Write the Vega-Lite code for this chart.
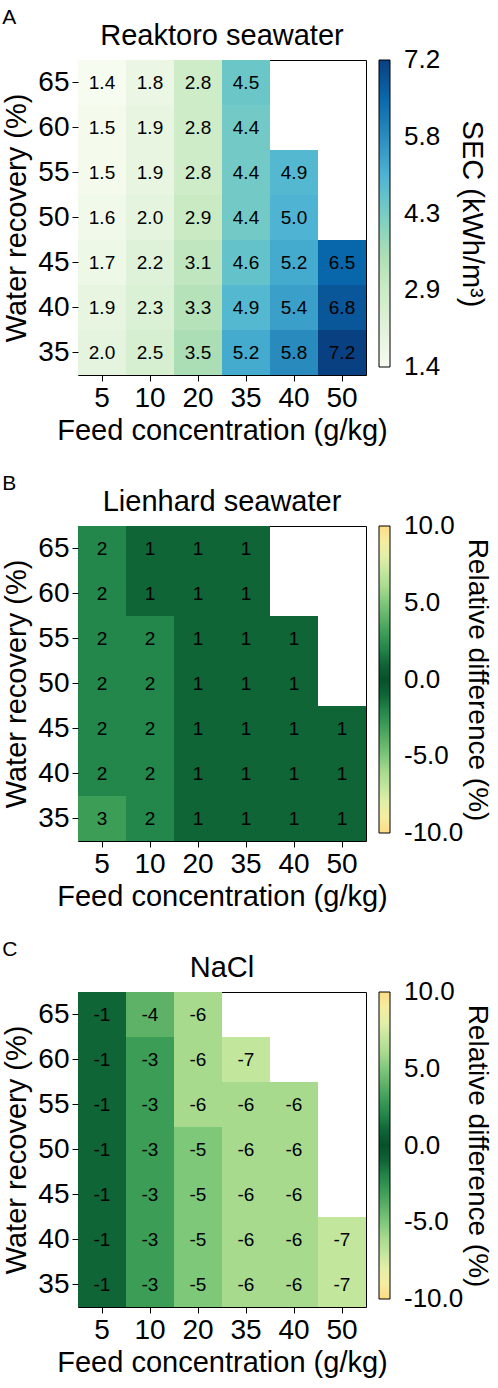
{
  "$schema": "https://vega.github.io/schema/vega-lite/v6.json",
  "background": "white",
  "padding": {"left": 2, "top": 6, "right": 0, "bottom": 0},
  "config": {
    "font": "Liberation Sans",
    "view": {"stroke": "black", "strokeWidth": 1},
    "axis": {
      "labelFontSize": 28, "titleFontSize": 29, "labelColor": "black", "titleColor": "black",
      "titleFontWeight": "normal", "tickColor": "black", "tickSize": 6, "domain": false,
      "labelPadding": 3, "grid": false
    },
    "axisX": {"labelAngle": 0, "titlePadding": 4},
    "axisY": {"titlePadding": 6},
    "legend": {
      "orient": "right", "direction": "vertical", "offset": -9, "padding": 0,
      "gradientLength": 307, "gradientThickness": 11,
      "gradientStrokeColor": "black", "gradientStrokeWidth": 1,
      "labelFontSize": 26, "labelColor": "black", "labelOffset": 14, "labelOverlap": false,
      "titleOrient": "right", "titleAnchor": "middle", "titleFontSize": 29,
      "titleFontWeight": "normal", "titleColor": "black", "titlePadding": 1, "titleLimit": 400
    },
    "title": {"fontSize": 29, "fontWeight": "normal", "color": "black"},
    "concat": {"spacing": 26}
  },
  "datasets": {
    "reaktoro": [
      {"feed": 5, "recovery": 65, "sec": 1.4}, {"feed": 10, "recovery": 65, "sec": 1.8}, {"feed": 20, "recovery": 65, "sec": 2.8}, {"feed": 35, "recovery": 65, "sec": 4.5},
      {"feed": 5, "recovery": 60, "sec": 1.5}, {"feed": 10, "recovery": 60, "sec": 1.9}, {"feed": 20, "recovery": 60, "sec": 2.8}, {"feed": 35, "recovery": 60, "sec": 4.4},
      {"feed": 5, "recovery": 55, "sec": 1.5}, {"feed": 10, "recovery": 55, "sec": 1.9}, {"feed": 20, "recovery": 55, "sec": 2.8}, {"feed": 35, "recovery": 55, "sec": 4.4}, {"feed": 40, "recovery": 55, "sec": 4.9},
      {"feed": 5, "recovery": 50, "sec": 1.6}, {"feed": 10, "recovery": 50, "sec": 2.0}, {"feed": 20, "recovery": 50, "sec": 2.9}, {"feed": 35, "recovery": 50, "sec": 4.4}, {"feed": 40, "recovery": 50, "sec": 5.0},
      {"feed": 5, "recovery": 45, "sec": 1.7}, {"feed": 10, "recovery": 45, "sec": 2.2}, {"feed": 20, "recovery": 45, "sec": 3.1}, {"feed": 35, "recovery": 45, "sec": 4.6}, {"feed": 40, "recovery": 45, "sec": 5.2}, {"feed": 50, "recovery": 45, "sec": 6.5},
      {"feed": 5, "recovery": 40, "sec": 1.9}, {"feed": 10, "recovery": 40, "sec": 2.3}, {"feed": 20, "recovery": 40, "sec": 3.3}, {"feed": 35, "recovery": 40, "sec": 4.9}, {"feed": 40, "recovery": 40, "sec": 5.4}, {"feed": 50, "recovery": 40, "sec": 6.8},
      {"feed": 5, "recovery": 35, "sec": 2.0}, {"feed": 10, "recovery": 35, "sec": 2.5}, {"feed": 20, "recovery": 35, "sec": 3.5}, {"feed": 35, "recovery": 35, "sec": 5.2}, {"feed": 40, "recovery": 35, "sec": 5.8}, {"feed": 50, "recovery": 35, "sec": 7.2}
    ],
    "lienhard": [
      {"feed": 5, "recovery": 65, "rd": 2}, {"feed": 10, "recovery": 65, "rd": 1}, {"feed": 20, "recovery": 65, "rd": 1}, {"feed": 35, "recovery": 65, "rd": 1},
      {"feed": 5, "recovery": 60, "rd": 2}, {"feed": 10, "recovery": 60, "rd": 1}, {"feed": 20, "recovery": 60, "rd": 1}, {"feed": 35, "recovery": 60, "rd": 1},
      {"feed": 5, "recovery": 55, "rd": 2}, {"feed": 10, "recovery": 55, "rd": 2}, {"feed": 20, "recovery": 55, "rd": 1}, {"feed": 35, "recovery": 55, "rd": 1}, {"feed": 40, "recovery": 55, "rd": 1},
      {"feed": 5, "recovery": 50, "rd": 2}, {"feed": 10, "recovery": 50, "rd": 2}, {"feed": 20, "recovery": 50, "rd": 1}, {"feed": 35, "recovery": 50, "rd": 1}, {"feed": 40, "recovery": 50, "rd": 1},
      {"feed": 5, "recovery": 45, "rd": 2}, {"feed": 10, "recovery": 45, "rd": 2}, {"feed": 20, "recovery": 45, "rd": 1}, {"feed": 35, "recovery": 45, "rd": 1}, {"feed": 40, "recovery": 45, "rd": 1}, {"feed": 50, "recovery": 45, "rd": 1},
      {"feed": 5, "recovery": 40, "rd": 2}, {"feed": 10, "recovery": 40, "rd": 2}, {"feed": 20, "recovery": 40, "rd": 1}, {"feed": 35, "recovery": 40, "rd": 1}, {"feed": 40, "recovery": 40, "rd": 1}, {"feed": 50, "recovery": 40, "rd": 1},
      {"feed": 5, "recovery": 35, "rd": 3}, {"feed": 10, "recovery": 35, "rd": 2}, {"feed": 20, "recovery": 35, "rd": 1}, {"feed": 35, "recovery": 35, "rd": 1}, {"feed": 40, "recovery": 35, "rd": 1}, {"feed": 50, "recovery": 35, "rd": 1}
    ],
    "nacl": [
      {"feed": 5, "recovery": 65, "rd": -1}, {"feed": 10, "recovery": 65, "rd": -4}, {"feed": 20, "recovery": 65, "rd": -6},
      {"feed": 5, "recovery": 60, "rd": -1}, {"feed": 10, "recovery": 60, "rd": -3}, {"feed": 20, "recovery": 60, "rd": -6}, {"feed": 35, "recovery": 60, "rd": -7},
      {"feed": 5, "recovery": 55, "rd": -1}, {"feed": 10, "recovery": 55, "rd": -3}, {"feed": 20, "recovery": 55, "rd": -6}, {"feed": 35, "recovery": 55, "rd": -6}, {"feed": 40, "recovery": 55, "rd": -6},
      {"feed": 5, "recovery": 50, "rd": -1}, {"feed": 10, "recovery": 50, "rd": -3}, {"feed": 20, "recovery": 50, "rd": -5}, {"feed": 35, "recovery": 50, "rd": -6}, {"feed": 40, "recovery": 50, "rd": -6},
      {"feed": 5, "recovery": 45, "rd": -1}, {"feed": 10, "recovery": 45, "rd": -3}, {"feed": 20, "recovery": 45, "rd": -5}, {"feed": 35, "recovery": 45, "rd": -6}, {"feed": 40, "recovery": 45, "rd": -6},
      {"feed": 5, "recovery": 40, "rd": -1}, {"feed": 10, "recovery": 40, "rd": -3}, {"feed": 20, "recovery": 40, "rd": -5}, {"feed": 35, "recovery": 40, "rd": -6}, {"feed": 40, "recovery": 40, "rd": -6}, {"feed": 50, "recovery": 40, "rd": -7},
      {"feed": 5, "recovery": 35, "rd": -1}, {"feed": 10, "recovery": 35, "rd": -3}, {"feed": 20, "recovery": 35, "rd": -5}, {"feed": 35, "recovery": 35, "rd": -6}, {"feed": 40, "recovery": 35, "rd": -6}, {"feed": 50, "recovery": 35, "rd": -7}
    ]
  },
  "vconcat": [
    {
      "title": {"text": "A", "anchor": "start", "frame": "bounds", "fontSize": 21, "offset": -6},
      "vconcat": [
        {
          "title": {"text": "Reaktoro seawater", "offset": 9},
          "width": 288,
          "height": 315,
          "data": {"name": "reaktoro"},
          "encoding": {
            "x": {"field": "feed", "type": "ordinal", "title": "Feed concentration (g/kg)",
                  "scale": {"domain": [5, 10, 20, 35, 40, 50], "paddingInner": 0, "paddingOuter": 0}},
            "y": {"field": "recovery", "type": "ordinal", "title": "Water recovery (%)",
                  "scale": {"domain": [65, 60, 55, 50, 45, 40, 35], "paddingInner": 0, "paddingOuter": 0}}
          },
          "layer": [
            {
              "mark": {"type": "rect"},
              "encoding": {
                "color": {"field": "sec", "type": "quantitative", "title": "SEC (kWh/m³)",
                          "scale": {"domain": [1.4, 2.125, 2.85, 3.575, 4.3, 5.025, 5.75, 6.475, 7.2],
                                    "range": ["#f7fcf0", "#e0f3db", "#ccebc5", "#a8ddb5", "#7bccc4", "#4eb3d3", "#2b8cbe", "#0868ac", "#084081"]},
                          "legend": {"type": "gradient", "values": [1.4, 2.85, 4.3, 5.75, 7.2], "format": ".1f",
                                     "labelOffset": 14, "titlePadding": 17,
                                     "encode": {"labels": {"update": {"baseline": {"value": "middle"}}}}}}
              }
            },
            {
              "mark": {"type": "text", "fontSize": 19, "color": "black", "baseline": "middle"},
              "encoding": {"text": {"field": "sec", "type": "quantitative", "format": ".1f"}}
            }
          ]
        }
      ]
    },
    {
      "title": {"text": "B", "anchor": "start", "frame": "bounds", "fontSize": 21, "offset": -6},
      "vconcat": [
        {
          "title": {"text": "Lienhard seawater", "offset": 9},
          "width": 288,
          "height": 315,
          "data": {"name": "lienhard"},
          "encoding": {
            "x": {"field": "feed", "type": "ordinal", "title": "Feed concentration (g/kg)",
                  "scale": {"domain": [5, 10, 20, 35, 40, 50], "paddingInner": 0, "paddingOuter": 0}},
            "y": {"field": "recovery", "type": "ordinal", "title": "Water recovery (%)",
                  "scale": {"domain": [65, 60, 55, 50, 45, 40, 35], "paddingInner": 0, "paddingOuter": 0}}
          },
          "layer": [
            {
              "mark": {"type": "rect"},
              "encoding": {
                "color": {"field": "rd", "type": "quantitative", "title": "Relative difference (%)",
                          "scale": {"domain": [-10, -8.5, -7, -6, -5, -3, -2, -1, 0, 1, 2, 3, 5, 6, 7, 8.5, 10],
                                    "range": ["#fddc84", "#f2f4ae", "#c2e69c", "#a7da8d", "#7ec87a", "#3c9d57", "#23864a", "#0f6536", "#045229", "#0f6536", "#23864a", "#3c9d57", "#7ec87a", "#a7da8d", "#c2e69c", "#f2f4ae", "#fddc84"]},
                          "legend": {"type": "gradient", "values": [-10, -5, 0, 5, 10], "format": ".1f",
                                     "labelOffset": 14, "titlePadding": 0, "titleFontSize": 28,
                                     "labelExpr": "replace(datum.label, '\u2212', '-')",
                                     "encode": {"labels": {"update": {"baseline": {"value": "middle"}}}}}}
              }
            },
            {
              "mark": {"type": "text", "fontSize": 19, "color": "black", "baseline": "middle"},
              "encoding": {"text": {"field": "rd", "type": "nominal"}}
            }
          ]
        }
      ]
    },
    {
      "title": {"text": "C", "anchor": "start", "frame": "bounds", "fontSize": 21, "offset": -6},
      "vconcat": [
        {
          "title": {"text": "NaCl", "offset": 9},
          "width": 288,
          "height": 315,
          "data": {"name": "nacl"},
          "encoding": {
            "x": {"field": "feed", "type": "ordinal", "title": "Feed concentration (g/kg)",
                  "scale": {"domain": [5, 10, 20, 35, 40, 50], "paddingInner": 0, "paddingOuter": 0}},
            "y": {"field": "recovery", "type": "ordinal", "title": "Water recovery (%)",
                  "scale": {"domain": [65, 60, 55, 50, 45, 40, 35], "paddingInner": 0, "paddingOuter": 0}}
          },
          "layer": [
            {
              "mark": {"type": "rect"},
              "encoding": {
                "color": {"field": "rd", "type": "quantitative", "title": "Relative difference (%)",
                          "scale": {"domain": [-10, -8.5, -7, -6, -5, -3, -2, -1, 0, 1, 2, 3, 5, 6, 7, 8.5, 10],
                                    "range": ["#fddc84", "#f2f4ae", "#c2e69c", "#a7da8d", "#7ec87a", "#3c9d57", "#23864a", "#0f6536", "#045229", "#0f6536", "#23864a", "#3c9d57", "#7ec87a", "#a7da8d", "#c2e69c", "#f2f4ae", "#fddc84"]},
                          "legend": {"type": "gradient", "values": [-10, -5, 0, 5, 10], "format": ".1f",
                                     "labelOffset": 14, "titlePadding": 0, "titleFontSize": 28,
                                     "labelExpr": "replace(datum.label, '\u2212', '-')",
                                     "encode": {"labels": {"update": {"baseline": {"value": "middle"}}}}}}
              }
            },
            {
              "mark": {"type": "text", "fontSize": 19, "color": "black", "baseline": "middle"},
              "encoding": {"text": {"field": "rd", "type": "nominal"}}
            }
          ]
        }
      ]
    }
  ],
  "resolve": {"scale": {"color": "independent"}, "legend": {"color": "independent"}}
}
